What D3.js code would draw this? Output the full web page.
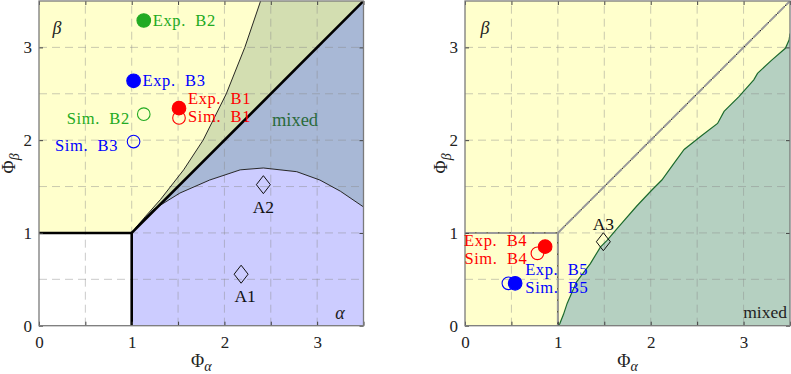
<!DOCTYPE html>
<html><head><meta charset="utf-8">
<script src="https://cdn.jsdelivr.net/npm/d3@7"></script>
<style>
body{margin:0;background:#fff}
svg{display:block}
text{font-family:"Liberation Serif","DejaVu Serif",serif}
</style>
</head><body>
<svg id="c" width="791" height="374"></svg>
<script>
// ---------- data ----------
const tickLabels = [0, 1, 2, 3];
const xTickVals = [0, 0.5, 1, 1.5, 2, 2.5, 3, 3.5];
const yTickVals = [0, 1, 2, 3];
const gridVals = [0.5, 1, 1.5, 2, 2.5, 3];

// left panel boundaries
const leftUpperCurve = [[1,1],[1.15,1.18],[1.31,1.36],[1.56,1.68],[1.77,2.0],[2.02,2.5],[2.22,3.0],[2.39,3.5]];
const leftLowerCurve = [[1,1],[1.08,1.1],[1.23,1.25],[1.52,1.43],[1.84,1.57],[2.17,1.68],[2.42,1.70],[2.78,1.66],[3.03,1.57],[3.25,1.45],[3.5,1.28]];
const diagonal = [[1,1],[3.5,3.5]];
const cornerLine = [[0,1],[1,1],[1,0]];

// right panel boundary
const rightMixedCurve = [[1.0,0],[1.02,0.02],[1.06,0.12],[1.1,0.24],[1.2,0.47],[1.35,0.67],[1.46,0.85],[1.53,0.92],[1.64,1.05],[1.85,1.29],[2.01,1.46],[2.12,1.57],[2.25,1.75],[2.36,1.90],[2.55,2.05],[2.72,2.18],[2.79,2.31],[2.95,2.47],[3.11,2.65],[3.15,2.72],[3.3,2.86],[3.45,2.99],[3.49,3.08],[3.5,3.15]];

// markers
const leftNames  = ["Exp. B1","Sim. B1","Exp. B2","Sim. B2","Exp. B3","Sim. B3"];
const leftX      = [1.51, 1.51, 1.13, 1.13, 1.02, 1.02];
const leftY      = [2.345, 2.24, 3.29, 2.28, 2.64, 1.985];
const leftFilled = [true, false, true, false, true, false];
const leftColor  = ["red","red","green","green","blue","blue"];

const rightNames  = ["Exp. B4","Sim. B4","Exp. B5","Sim. B5"];
const rightX      = [0.863, 0.78, 0.54, 0.467];
const rightY      = [0.852, 0.78, 0.457, 0.457];
const rightFilled = [true, false, true, false];
const rightColor  = ["red","red","blue","blue"];

const diamondNames = ["A1","A2","A3"];
const diamondX = [2.18, 2.42, 1.49];
const diamondY = [0.555, 1.52, 0.905];
const diamondPanel = ["left","left","right"];

// ---------- styles ----------
const colors = {red:"#ff0000", blue:"#0000ff", green:"#22aa22"};
const fill = {yellow:"#ffffcc", green:"#d3deb1", bluegray:"#a8b8d6", lavender:"#ccccff", teal:"#b5d0c1"};
const labelOffsets = {
  "Exp. B1":[9,-10,"start"], "Sim. B1":[9,-1,"start"],
  "Exp. B2":[9,0,"start"],   "Sim. B2":[-14,4,"end"],
  "Exp. B3":[9,0,"start"],   "Sim. B3":[-15.5,4,"end"],
  "Exp. B4":[-18,-6.5,"end"],  "Sim. B4":[-10,5.5,"end"],
  "Exp. B5":[10,-13.5,"start"], "Sim. B5":[17,4.5,"start"],
  "A1":[4,22,"middle"], "A2":[0,22,"middle"], "A3":[0,-18,"middle"]
};

const svg = d3.select("#c");
const yTopPx = 1, yBottomPx = 325.7;

function panel(xl, xr) {
  const x = d3.scaleLinear().domain([0, 3.5]).range([xl, xr]);
  const y = d3.scaleLinear().domain([0, 3.5]).range([yBottomPx, yTopPx]);
  return {x, y};
}
const L = panel(39, 363.5);
const R = panel(465, 790);

function lineGen(p) { return d3.line().x(d => p.x(d[0])).y(d => p.y(d[1])); }

function clip(id, p) {
  svg.append("clipPath").attr("id", id).append("rect")
    .attr("x", p.x(0)).attr("y", p.y(3.5))
    .attr("width", p.x(3.5) - p.x(0)).attr("height", p.y(0) - p.y(3.5));
}
clip("clipL", L); clip("clipR", R);

function grid(g, p) {
  const gg = g.append("g").attr("stroke", "#8a8a8a").attr("stroke-opacity", 0.45)
    .attr("stroke-dasharray", "8,5").attr("stroke-width", 1);
  gridVals.forEach(v => {
    gg.append("line").attr("x1", p.x(v)).attr("x2", p.x(v)).attr("y1", p.y(0)).attr("y2", p.y(3.5));
    gg.append("line").attr("y1", p.y(v)).attr("y2", p.y(v)).attr("x1", p.x(0)).attr("x2", p.x(3.5));
  });
}

function axes(p, ylabelX) {
  const fmt = d => tickLabels.includes(d) ? d3.format("d")(d) : "";
  const gb = svg.append("g").attr("transform", `translate(0,${p.y(0)})`)
    .call(d3.axisBottom(p.x).tickValues(xTickVals).tickSize(-4).tickPadding(10).tickFormat(fmt));
  const gt = svg.append("g").attr("transform", `translate(0,${p.y(3.5)})`)
    .call(d3.axisTop(p.x).tickValues(xTickVals).tickSize(-4).tickFormat(""));
  const gl = svg.append("g").attr("transform", `translate(${p.x(0)},0)`)
    .call(d3.axisLeft(p.y).tickValues(yTickVals).tickSize(-4).tickPadding(7).tickFormat(fmt));
  const gr = svg.append("g").attr("transform", `translate(${p.x(3.5)},0)`)
    .call(d3.axisRight(p.y).tickValues(yTickVals).tickSize(-4).tickFormat(""));
  [gb, gt, gl, gr].forEach(g => {
    g.attr("font-family", '"Liberation Serif",serif');
    g.select(".domain").remove();
    g.selectAll(".tick line").attr("stroke", "#404040").attr("stroke-width", 1);
    g.selectAll("text").attr("font-size", 17).attr("fill", "#222");
  });
  svg.append("rect").attr("x", p.x(0)).attr("y", p.y(3.5))
    .attr("width", p.x(3.5) - p.x(0)).attr("height", p.y(0) - p.y(3.5))
    .attr("fill", "none").attr("stroke", "#7a7a7a").attr("stroke-width", 1.3);
  const cx = (p.x(0) + p.x(3.5)) / 2;
  const t1 = svg.append("text").attr("x", cx).attr("y", 367).attr("text-anchor", "middle")
    .attr("font-size", 18).attr("fill", "#222");
  t1.append("tspan").text("Φ");
  t1.append("tspan").text("α").attr("font-style", "italic").attr("font-size", 14).attr("dy", 4);
  const cy = (p.y(0) + p.y(3.5)) / 2;
  const t2 = svg.append("text").attr("transform", `translate(${ylabelX},${cy}) rotate(-90)`)
    .attr("text-anchor", "middle").attr("font-size", 18).attr("fill", "#222");
  t2.append("tspan").text("Φ");
  t2.append("tspan").text("β").attr("font-style", "italic").attr("font-size", 14).attr("dy", 4);
}

function circles(g, p, names, xs, ys, filled, cols) {
  names.forEach((n, i) => {
    const c = colors[cols[i]];
    g.append("circle").attr("cx", p.x(xs[i])).attr("cy", p.y(ys[i])).attr("r", filled[i] ? 6.8 : 6.3)
      .attr("fill", filled[i] ? c : "none").attr("stroke", c).attr("stroke-width", 1.1);
  });
  names.forEach((n, i) => {
    const c = colors[cols[i]];
    const o = labelOffsets[n];
    g.append("text").attr("x", p.x(xs[i]) + o[0]).attr("y", p.y(ys[i]) + o[1])
      .attr("text-anchor", o[2]).attr("dominant-baseline", "central")
      .attr("font-size", 16.5).attr("fill", c).attr("letter-spacing", 0.6)
      .style("white-space", "pre").text(n.replace(" ", "\u00a0 "));
  });
}

function diamonds(g, p, which) {
  diamondNames.forEach((n, i) => {
    if (diamondPanel[i] !== which) return;
    const cx = p.x(diamondX[i]), cy = p.y(diamondY[i]);
    g.append("path").attr("d", `M${cx},${cy-9}L${cx+7},${cy}L${cx},${cy+9}L${cx-7},${cy}Z`)
      .attr("fill", "none").attr("stroke", "#111").attr("stroke-width", 1);
    const o = labelOffsets[n];
    g.append("text").attr("x", cx + o[0]).attr("y", cy + o[1]).attr("text-anchor", o[2])
      .attr("dominant-baseline", "central").attr("font-size", 17.5).attr("fill", "#111").text(n);
  });
}

// ---------- LEFT PANEL ----------
{
  const p = L, g = svg.append("g").attr("clip-path", "url(#clipL)");
  const lg = lineGen(p);
  g.append("rect").attr("x", p.x(0)).attr("y", p.y(3.5)).attr("width", p.x(3.5)-p.x(0))
    .attr("height", p.y(0)-p.y(3.5)).attr("fill", fill.yellow);
  g.append("rect").attr("x", p.x(0)).attr("y", p.y(1)).attr("width", p.x(1)-p.x(0))
    .attr("height", p.y(0)-p.y(1)).attr("fill", "#ffffff");
  g.append("path").attr("d", lg(leftUpperCurve.concat([[3.5,3.5]]))+"Z").attr("fill", fill.green);
  g.append("path").attr("d", lg([[1,1],[3.5,3.5]].concat(leftLowerCurve.slice().reverse()))+"Z").attr("fill", fill.bluegray);
  g.append("path").attr("d", lg([[1,0]].concat(leftLowerCurve).concat([[3.5,0]]))+"Z").attr("fill", fill.lavender);
  grid(g, p);
  g.append("path").attr("d", lg(leftUpperCurve)).attr("fill", "none").attr("stroke", "#111").attr("stroke-width", 0.9);
  g.append("path").attr("d", lg(leftLowerCurve)).attr("fill", "none").attr("stroke", "#111").attr("stroke-width", 0.9);
  g.append("path").attr("d", lg(diagonal)).attr("fill", "none").attr("stroke", "#000").attr("stroke-width", 2.6);
  g.append("path").attr("d", lg(cornerLine)).attr("fill", "none").attr("stroke", "#000").attr("stroke-width", 2.6);
  axes(p, 15);
  const mg = svg.append("g");
  diamonds(mg, p, "left");
  circles(mg, p, leftNames, leftX, leftY, leftFilled, leftColor);
  mg.append("text").attr("x", 295).attr("y", 120).attr("text-anchor", "middle").attr("dominant-baseline", "central")
    .attr("font-size", 18.5).attr("fill", "#2b6b3c").text("mixed");
  mg.append("text").attr("x", 57).attr("y", 28).attr("text-anchor", "middle").attr("dominant-baseline", "central")
    .attr("font-size", 18).attr("font-style", "italic").attr("fill", "#222").text("β");
  mg.append("text").attr("x", 340).attr("y", 313).attr("text-anchor", "middle").attr("dominant-baseline", "central")
    .attr("font-size", 18).attr("font-style", "italic").attr("fill", "#222").text("α");
}

// ---------- RIGHT PANEL ----------
{
  const p = R, g = svg.append("g").attr("clip-path", "url(#clipR)");
  const lg = lineGen(p);
  g.append("rect").attr("x", p.x(0)).attr("y", p.y(3.5)).attr("width", p.x(3.5)-p.x(0))
    .attr("height", p.y(0)-p.y(3.5)).attr("fill", fill.yellow);
  g.append("path").attr("d", lg(rightMixedCurve.concat([[3.5,0]]))+"Z").attr("fill", fill.teal);
  grid(g, p);
  g.append("path").attr("d", lg(rightMixedCurve)).attr("fill", "none").attr("stroke", "#1d6b2e").attr("stroke-width", 1.2);
  [diagonal, cornerLine].forEach(d => {
    g.append("path").attr("d", lg(d)).attr("fill", "none").attr("stroke", "#111").attr("stroke-width", 1);
    g.append("path").attr("d", lg(d)).attr("fill", "none").attr("stroke", "#9a9a9a").attr("stroke-width", 2)
      .attr("stroke-dasharray", "10,1.5");
  });
  axes(p, 447);
  const mg = svg.append("g");
  diamonds(mg, p, "right");
  circles(mg, p, rightNames, rightX, rightY, rightFilled, rightColor);
  mg.append("text").attr("x", 787).attr("y", 312).attr("text-anchor", "end").attr("dominant-baseline", "central")
    .attr("font-size", 17.5).attr("fill", "#222").text("mixed");
  mg.append("text").attr("x", 485).attr("y", 28).attr("text-anchor", "middle").attr("dominant-baseline", "central")
    .attr("font-size", 18).attr("font-style", "italic").attr("fill", "#222").text("β");
}
</script>
</body></html>
